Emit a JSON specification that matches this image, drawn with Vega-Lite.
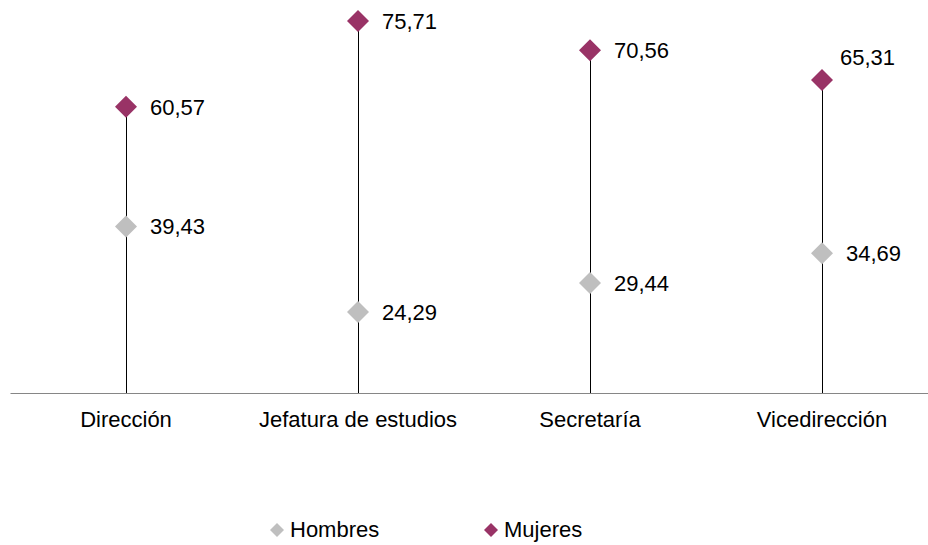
{
  "$schema": "https://vega.github.io/schema/vega-lite/v6.json",
  "width": 928,
  "height": 393,
  "autosize": {"type": "none"},
  "padding": {"left": 10, "top": 0, "right": 0, "bottom": 152},
  "config": {
    "view": {"stroke": null},
    "font": "Liberation Sans",
    "locale": {"number": {"decimal": ",", "thousands": ".", "grouping": [3], "currency": ["", " €"]}}
  },
  "data": {
    "values": [
      {"cargo": "Dirección", "sexo": "Hombres", "valor": 39.43},
      {"cargo": "Dirección", "sexo": "Mujeres", "valor": 60.57},
      {"cargo": "Jefatura de estudios", "sexo": "Hombres", "valor": 24.29},
      {"cargo": "Jefatura de estudios", "sexo": "Mujeres", "valor": 75.71},
      {"cargo": "Secretaría", "sexo": "Hombres", "valor": 29.44},
      {"cargo": "Secretaría", "sexo": "Mujeres", "valor": 70.56},
      {"cargo": "Vicedirección", "sexo": "Hombres", "valor": 34.69},
      {"cargo": "Vicedirección", "sexo": "Mujeres", "valor": 65.31}
    ]
  },
  "encoding": {
    "x": {
      "field": "cargo",
      "type": "nominal",
      "sort": null,
      "scale": {"paddingInner": 0, "paddingOuter": 0},
      "axis": {
        "title": null,
        "labelAngle": 0,
        "ticks": false,
        "labelPadding": 16,
        "labelFontSize": 22,
        "labelLimit": 0,
        "labelColor": "#000000",
        "domainColor": "#868686",
        "domainWidth": 1.2
      }
    }
  },
  "layer": [
    {
      "transform": [{"filter": "datum.sexo === 'Mujeres'"}],
      "mark": {"type": "rule", "color": "#000000", "strokeWidth": 1, "xOffset": 0.5},
      "encoding": {
        "y": {"field": "valor", "type": "quantitative", "scale": {"domain": [10, 79.43], "nice": false, "zero": false}, "axis": null},
        "y2": {"datum": 10}
      }
    },
    {
      "mark": {"type": "point", "shape": "diamond", "filled": true, "size": 484, "opacity": 1},
      "encoding": {
        "y": {"field": "valor", "type": "quantitative"},
        "color": {
          "field": "sexo",
          "type": "nominal",
          "scale": {"domain": ["Hombres", "Mujeres"], "range": ["#BFBFBF", "#993366"]},
          "legend": {
            "title": null,
            "orient": "none",
            "direction": "horizontal",
            "legendX": 256,
            "legendY": 519,
            "padding": 0,
            "symbolType": "diamond",
            "symbolSize": 196,
            "symbolStrokeWidth": 0,
            "labelFontSize": 22,
            "labelColor": "#000000",
            "labelOffset": 2,
            "columnPadding": 100
          }
        }
      }
    },
    {
      "transform": [{"filter": "!(datum.cargo === 'Vicedirección' && datum.sexo === 'Mujeres')"}],
      "mark": {"type": "text", "align": "left", "baseline": "middle", "dx": 24, "dy": 1, "fontSize": 22, "color": "#000000"},
      "encoding": {
        "y": {"field": "valor", "type": "quantitative"},
        "text": {"field": "valor", "type": "quantitative", "format": ".2f"}
      }
    },
    {
      "transform": [{"filter": "datum.cargo === 'Vicedirección' && datum.sexo === 'Mujeres'"}],
      "mark": {"type": "text", "align": "left", "baseline": "middle", "dx": 18, "dy": -22, "fontSize": 22, "color": "#000000"},
      "encoding": {
        "y": {"field": "valor", "type": "quantitative"},
        "text": {"field": "valor", "type": "quantitative", "format": ".2f"}
      }
    }
  ]
}
